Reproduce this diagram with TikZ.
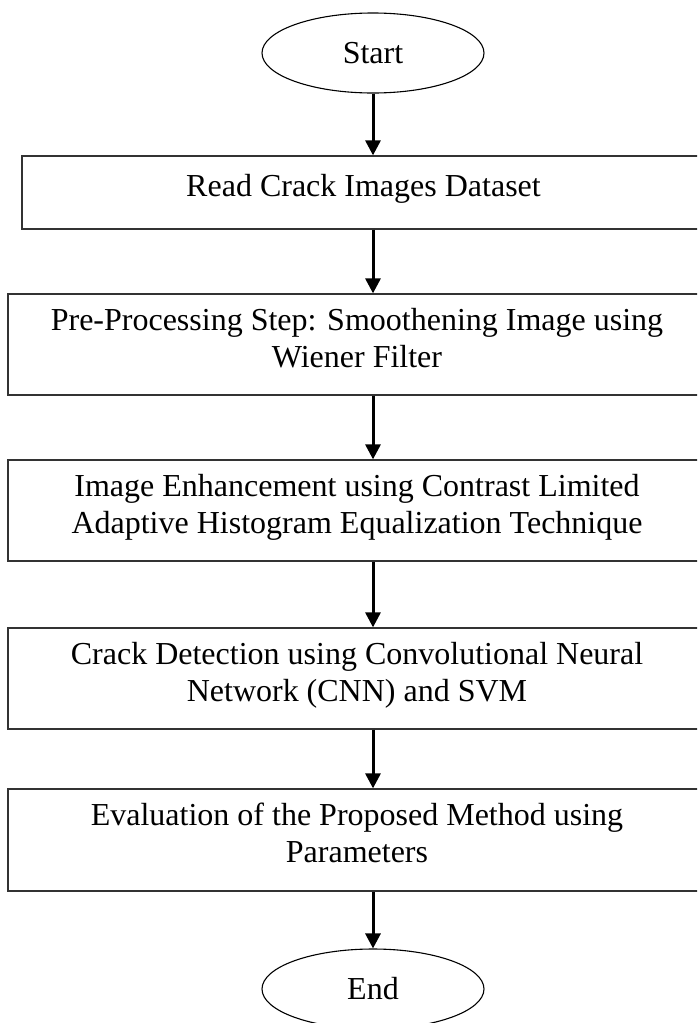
\documentclass[tikz,border=0pt]{standalone}
\usepackage{fontspec}
\setmainfont{Liberation Serif}
\usetikzlibrary{shapes.geometric,arrows.meta}
\begin{document}
\begin{tikzpicture}[x=1pt,y=-1pt,
  txt/.style={font=\fontsize{32}{37}\selectfont, align=center, inner sep=0pt},
  stepbox/.style={txt, draw=black!80, line width=1.3pt, rectangle, text depth=14pt},
  term/.style={txt, draw=black, line width=1.1pt, ellipse, minimum width=222pt, minimum height=80pt},
  flow/.style={line width=3pt, -{Triangle[width=15pt,length=15pt]}}]
\useasboundingbox (0,0) rectangle (697,1023);
\clip (0,0) rectangle (697,1023);
\node[term] (start) at (373,53) {Start};
\node[stepbox, minimum width=683pt, minimum height=73pt] (b1) at (363.5,192.5) {Read Crack Images Dataset};
\node[stepbox, minimum width=698pt, minimum height=101pt] (b2) at (357,344.5) {Pre-Processing Step: Smoothening Image using\\Wiener Filter};
\node[stepbox, minimum width=698pt, minimum height=101pt] (b3) at (357,510.5) {Image Enhancement using Contrast Limited\\Adaptive Histogram Equalization Technique};
\node[stepbox, minimum width=698pt, minimum height=101pt] (b4) at (357,678.5) {Crack Detection using Convolutional Neural\\Network (CNN) and SVM};
\node[stepbox, minimum width=698pt, minimum height=102pt] (b5) at (357,840) {Evaluation of the Proposed Method using\\Parameters};
\node[term] (end) at (373,989) {End};
\draw[flow] (start.south) -- (start.south |- b1.north);
\draw[flow] (start.south |- b1.south) -- (start.south |- b2.north);
\draw[flow] (start.south |- b2.south) -- (start.south |- b3.north);
\draw[flow] (start.south |- b3.south) -- (start.south |- b4.north);
\draw[flow] (start.south |- b4.south) -- (start.south |- b5.north);
\draw[flow] (start.south |- b5.south) -- (end.north);
\end{tikzpicture}
\end{document}
